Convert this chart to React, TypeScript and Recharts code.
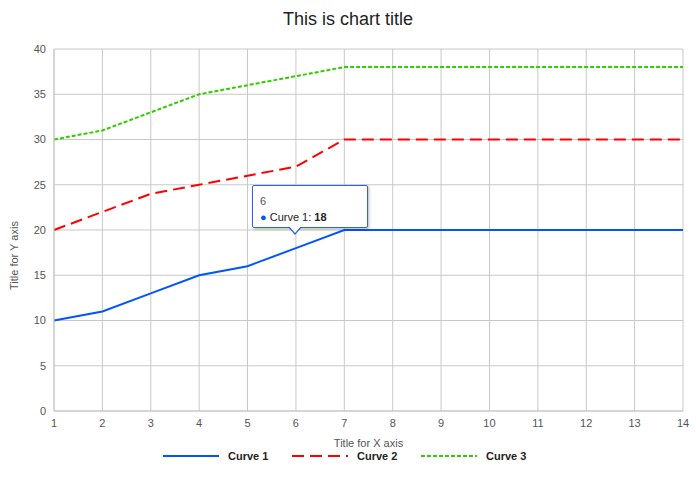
import { CartesianGrid, Line, LineChart, Tooltip, XAxis, YAxis } from "recharts";

const xValues = [1, 2, 3, 4, 5, 6, 7, 8, 9, 10, 11, 12, 13, 14];
const curve1 = [10, 11, 13, 15, 16, 18, 20, 20, 20, 20, 20, 20, 20, 20];
const curve2 = [20, 22, 24, 25, 26, 27, 30, 30, 30, 30, 30, 30, 30, 30];
const curve3 = [30, 31, 33, 35, 36, 37, 38, 38, 38, 38, 38, 38, 38, 38];
const yTicks = [0, 5, 10, 15, 20, 25, 30, 35, 40];

const data = xValues.map((x, i) => ({ x, c1: curve1[i], c2: curve2[i], c3: curve3[i] }));

const SERIES = [
  { key: "c1", name: "Curve 1", color: "#0055ff", dash: undefined },
  { key: "c2", name: "Curve 2", color: "#ff0000", dash: "12 6" },
  { key: "c3", name: "Curve 3", color: "#33cc00", dash: "4 2" },
];

const FONT = "'Liberation Sans', Arial, sans-serif";

const TipBox = ({ active, payload, label }: any) => {
  if (!active || !payload || !payload.length) return null;
  const p = payload.find((q: any) => q.dataKey === "c1") ?? payload[0];
  return (
    <div style={{ position: "relative", fontFamily: FONT }}>
      <div
        style={{
          width: 116,
          height: 43,
          background: "#fff",
          border: "1px solid #3366cc",
          borderRadius: 2,
          boxShadow: "1px 1px 3px rgba(0,0,0,0.3)",
          boxSizing: "border-box",
          padding: "9px 0 0 7px",
          fontSize: 11,
          color: "#222",
        }}
      >
        <div style={{ color: "#555", marginBottom: 4 }}>{label}</div>
        <div>
          <span style={{ color: "#0055ff" }}>●</span> Curve 1: <b>{p.value}</b>
        </div>
      </div>
      <div style={{ position: "absolute", left: 36, top: 42, width: 0, height: 0, borderLeft: "7px solid transparent", borderRight: "7px solid transparent", borderTop: "8px solid #3366cc" }} />
      <div style={{ position: "absolute", left: 37, top: 41, width: 0, height: 0, borderLeft: "6px solid transparent", borderRight: "6px solid transparent", borderTop: "7px solid #fff" }} />
    </div>
  );
};

const LegendBox = () => (
  <div style={{ position: "absolute", left: 163, top: 450, display: "flex", gap: 20, fontFamily: FONT, fontSize: 11, fontWeight: "bold", color: "#222" }}>
    {SERIES.map((s) => (
      <div key={s.key} style={{ display: "flex", alignItems: "center", gap: 9, width: 109 }}>
        <svg width={56} height={4}>
          <line x1={0} y1={2} x2={56} y2={2} stroke={s.color} strokeWidth={2} strokeDasharray={s.dash} />
        </svg>
        <span>{s.name}</span>
      </div>
    ))}
  </div>
);

export default function App() {
  return (
    <div style={{ position: "absolute", left: 0, top: 0, width: 696, height: 501, background: "#fff" }}>
      <div style={{ position: "absolute", top: 9, width: 696, textAlign: "center", fontFamily: FONT, fontSize: 18, color: "#222" }}>
        This is chart title
      </div>
      <LineChart width={696} height={501} data={data} margin={{ top: 49, right: 13, bottom: 50, left: 8 }}>
        <CartesianGrid stroke="#c8c8c8" />
        <XAxis
          dataKey="x"
          type="number"
          domain={[1, 14]}
          ticks={xValues}
          height={40}
          tickLine={false}
          axisLine={{ stroke: "#c8c8c8" }}
          tick={{ fontSize: 11, fill: "#555", fontFamily: FONT }}
          label={{ value: "Title for X axis", position: "insideBottom", offset: 4, fontSize: 11, fill: "#555", fontFamily: FONT }}
        />
        <YAxis
          domain={[0, 40]}
          ticks={yTicks}
          width={46}
          tickLine={false}
          axisLine={{ stroke: "#c8c8c8" }}
          tick={{ fontSize: 11, fill: "#555", fontFamily: FONT }}
          label={{ value: "Title for Y axis", angle: -90, position: "insideLeft", offset: 6, fontSize: 11, fill: "#555", fontFamily: FONT, dy: 60 }}
        />
        <Tooltip
          content={<TipBox />}
          defaultIndex={5}
          active
          position={{ x: 252, y: 185 }}
          cursor={false}
          isAnimationActive={false}
          wrapperStyle={{ outline: "none" }}
        />
        {SERIES.map((s) => (
          <Line
            key={s.key}
            dataKey={s.key}
            name={s.name}
            stroke={s.color}
            strokeWidth={2}
            strokeDasharray={s.dash}
            dot={false}
            activeDot={false}
            type="linear"
            isAnimationActive={false}
          />
        ))}
      </LineChart>
      <LegendBox />
    </div>
  );
}
